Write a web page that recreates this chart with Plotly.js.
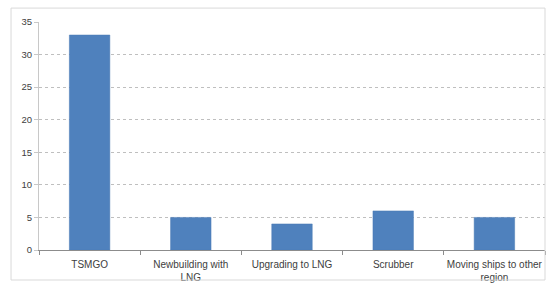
<!DOCTYPE html>
<html><head><meta charset="utf-8">
<script src="https://cdn.plot.ly/plotly-3.0.1.min.js"></script>
<style>body{margin:0;padding:0;background:#fff}#c{width:547px;height:288px}</style>
</head><body><div id="c"></div>
<script>
const categories = ["TSMGO", "Newbuilding with<br>LNG", "Upgrading to LNG", "Scrubber", "Moving ships to other<br>region"];
const values = [33, 5, 4, 6, 5];
const yTicks = [0, 5, 10, 15, 20, 25, 30, 35];

const trace = {
  type: 'bar', x: categories, y: values,
  marker: {color: '#4f81bd', line: {color: '#4a7ab4', width: 0.5}},
  hoverinfo: 'skip'
};
const layout = {
  width: 547, height: 288,
  margin: {l: 39, r: 2, t: 22, b: 38},
  paper_bgcolor: '#fff', plot_bgcolor: '#fff',
  bargap: 0.6,
  showlegend: false,
  font: {family: 'Liberation Sans, Arial, sans-serif', size: 10, color: '#404040'},
  xaxis: {
    type: 'category', showgrid: false, zeroline: false,
    showline: true, linecolor: '#8c8c8c', linewidth: 1,
    ticks: 'outside', tickson: 'boundaries', ticklen: 4, tickcolor: '#8c8c8c',
    ticklabelstandoff: 5, tickangle: 0,
    tickfont: {size: 10, color: '#404040'}, automargin: false
  },
  yaxis: {
    range: [0, 35], tickvals: yTicks, showgrid: true,
    gridcolor: '#bfbfbf', griddash: 'dot', gridwidth: 1,
    zeroline: false, showline: true, linecolor: '#c8c8c8', linewidth: 1,
    ticks: 'outside', ticklen: 4, tickcolor: '#c8c8c8',
    tickfont: {size: 9.5, color: '#404040'}, automargin: false
  },
  shapes: [{
    type: 'rect', xref: 'paper', yref: 'paper',
    x0: -0.0553, x1: 1.0, y0: -0.1316, y1: 1.061,
    line: {color: '#d9d9d9', width: 1}
  }]
};
Plotly.newPlot('c', [trace], layout, {displayModeBar: false, staticPlot: true});
</script></body></html>
